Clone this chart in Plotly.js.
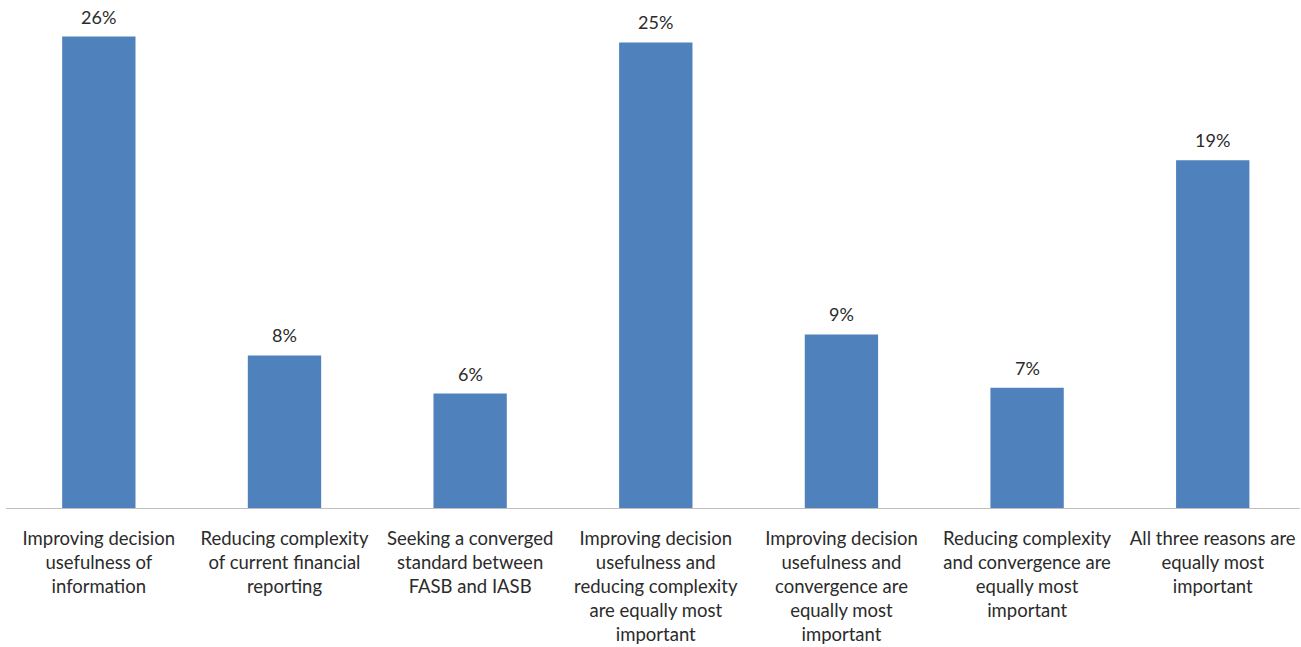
<!DOCTYPE html>
<html>
<head>
<meta charset="utf-8">
<script src="https://cdn.plot.ly/plotly-3.0.1.min.js"></script>
<style>html,body{margin:0;padding:0;background:#fff;}#chart{width:1301px;height:647px;}</style>
</head>
<body>
<div id="chart"></div>
<script>
var categories = [
  "Improving decision<br>usefulness of<br>information",
  "Reducing complexity<br>of current financial<br>reporting",
  "Seeking a converged<br>standard between<br>FASB and IASB",
  "Improving decision<br>usefulness and<br>reducing complexity<br>are equally most<br>important",
  "Improving decision<br>usefulness and<br>convergence are<br>equally most<br>important",
  "Reducing complexity<br>and convergence are<br>equally most<br>important",
  "All three reasons are<br>equally most<br>important"
];
var values = [25.62, 8.29, 6.22, 25.30, 9.43, 6.53, 18.89];
var valueLabels = ["26%", "8%", "6%", "25%", "9%", "7%", "19%"];

var FONT = "Lato, 'Open Sans', sans-serif";
var idx = categories.map(function(_, i){ return i; });

var trace = {
  type: "bar",
  x: idx,
  y: values,
  marker: {color: "#4f81bd", line: {width: 0}},
  hoverinfo: "none"
};

var annotations = idx.map(function(i){
  return {
    x: i, y: values[i], xref: "x", yref: "y",
    text: valueLabels[i], showarrow: false,
    yanchor: "bottom", yshift: 7,
    font: {family: FONT, size: 18, color: "#2b2b2b"}
  };
});

var layout = {
  width: 1301, height: 647,
  margin: {l: 6, r: 1, t: 8, b: 139},
  paper_bgcolor: "#ffffff", plot_bgcolor: "#ffffff",
  showlegend: false,
  bargap: 0.605,
  xaxis: {
    range: [-0.5, 6.47],
    tickmode: "array", tickvals: idx, ticktext: categories,
    showline: true, linecolor: "#bfbfbf", linewidth: 1,
    showgrid: false, zeroline: false, ticks: "",
    ticklabelstandoff: 14,
    tickfont: {family: FONT, size: 18.5, color: "#2b2b2b"},
    fixedrange: true
  },
  yaxis: {
    range: [0, 27.17],
    visible: false, showgrid: false, zeroline: false,
    fixedrange: true
  },
  annotations: annotations
};

Plotly.newPlot("chart", [trace], layout, {displayModeBar: false, staticPlot: true});
</script>
</body>
</html>
